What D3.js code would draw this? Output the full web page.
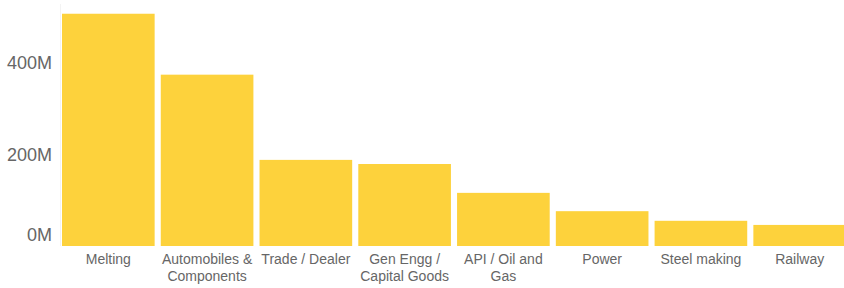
<!DOCTYPE html>
<html><head><meta charset="utf-8">
<script src="https://cdn.jsdelivr.net/npm/d3@7"></script>
<style>body{margin:0;background:#fff}svg{display:block}text{font-family:"Liberation Sans",Arial,sans-serif}</style>
</head><body>
<script>
const categories = ["Melting","Automobiles & Components","Trade / Dealer","Gen Engg / Capital Goods","API / Oil and Gas","Power","Steel making","Railway"];
const values = [507e6, 374e6, 188e6, 179e6, 116e6, 76e6, 55e6, 46e6];
const yTicks = [0, 200e6, 400e6];

const W = 844, H = 288;
const m = {top: 0, right: 0, bottom: 42, left: 62};
const svg = d3.select("body").append("svg").attr("width", W).attr("height", H);

const x = d3.scaleBand().domain(categories).range([m.left, W + 2]).paddingInner(0.062).paddingOuter(0);
const y = d3.scaleLinear().domain([0, 537e6]).range([246, 0]);

// faint left axis line
svg.append("line").attr("x1", 60.5).attr("x2", 60.5).attr("y1", 4).attr("y2", 246)
  .attr("stroke", "#f3f3f3").attr("stroke-width", 1);

svg.selectAll("rect.bar").data(values).join("rect").attr("class","bar")
  .attr("x", (d,i) => x(categories[i]))
  .attr("width", x.bandwidth())
  .attr("y", d => y(d))
  .attr("height", d => y(0) - y(d))
  .attr("fill", "#FDD23C");

// y axis labels
const yAxis = d3.axisLeft(y).tickValues(yTicks).tickFormat(d => d3.format("d")(d/1e6) + "M").tickSize(0).tickPadding(0);
const ya = svg.append("g").attr("transform", "translate(52,0)").call(yAxis);
ya.select(".domain").remove();
ya.selectAll("text").attr("font-size", 18).attr("fill", "#666").attr("font-family", '"Liberation Sans",Arial,sans-serif')
  .attr("dy", d => d === 0 ? "-0.32em" : "0.32em");

// x axis labels with wrap
const xAxis = d3.axisBottom(x).tickSize(0).tickPadding(0);
const xa = svg.append("g").attr("transform", "translate(0,252)").call(xAxis);
xa.select(".domain").remove();
xa.selectAll("text").attr("font-size", 14).attr("fill", "#666").attr("font-family", '"Liberation Sans",Arial,sans-serif')
  .attr("dy", "0.85em")
  .each(function(d){
    const t = d3.select(this);
    const words = d.split(/\s+/);
    t.text(null);
    let line = [], lineNo = 0;
    let ts = t.append("tspan").attr("x", 0).attr("dy", "0.85em");
    const maxW = x.bandwidth() - 2;
    for (const w of words) {
      line.push(w);
      ts.text(line.join(" "));
      if (ts.node().getComputedTextLength() > maxW && line.length > 1) {
        line.pop(); ts.text(line.join(" "));
        line = [w]; lineNo++;
        ts = t.append("tspan").attr("x", 0).attr("dy", "1.25em").text(w);
      }
    }
  });
</script>
</body></html>
